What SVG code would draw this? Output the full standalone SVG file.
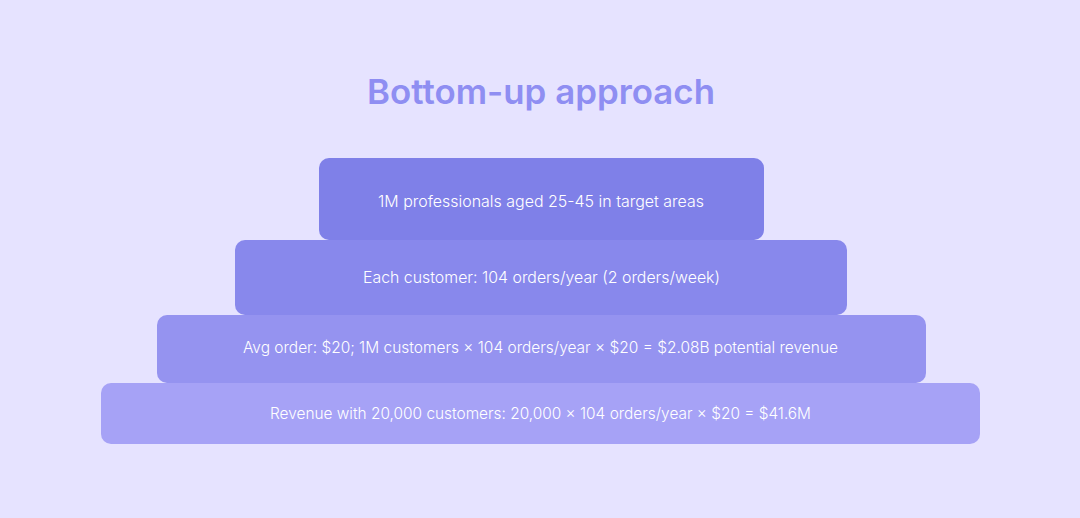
<svg xmlns="http://www.w3.org/2000/svg" width="1080" height="518" viewBox="0 0 1080 518">
<style>
.t{font-family:Inter,"Noto Sans","Liberation Sans",sans-serif;font-weight:300;font-size:16px;fill:#ffffff;text-anchor:middle}
.h{font-family:Inter,"Noto Sans","Liberation Sans",sans-serif;font-weight:600;font-size:34px;fill:#8f8ef2;text-anchor:middle}
</style>
<rect width="1080" height="518" fill="#e6e3ff"/>
<text class="h" x="541" y="104" textLength="348" lengthAdjust="spacingAndGlyphs">Bottom-up approach</text>
<g id="level4">
<rect x="101" y="383" width="879" height="61" rx="10" fill="#a6a2f6"/>
<text class="t" x="540.5" y="419" textLength="541" lengthAdjust="spacingAndGlyphs">Revenue with 20,000 customers: 20,000 × 104 orders/year × $20 = $41.6M</text>
</g>
<g id="level3">
<rect x="157" y="315" width="769" height="68" rx="10" fill="#9593f0"/>
<text class="t" x="540.5" y="353.3" textLength="595" lengthAdjust="spacingAndGlyphs">Avg order: $20; 1M customers × 104 orders/year × $20 = $2.08B potential revenue</text>
</g>
<g id="level2">
<rect x="235" y="240" width="612" height="75" rx="10" fill="#8888ec"/>
<text class="t" x="541.5" y="282.7" textLength="357" lengthAdjust="spacingAndGlyphs">Each customer: 104 orders/year (2 orders/week)</text>
</g>
<g id="level1">
<rect x="319" y="158" width="445" height="82" rx="10" fill="#7f80e8"/>
<text class="t" x="541" y="206.5" textLength="326" lengthAdjust="spacingAndGlyphs">1M professionals aged 25-45 in target areas</text>
</g>
<g id="connectors"/>
</svg>
